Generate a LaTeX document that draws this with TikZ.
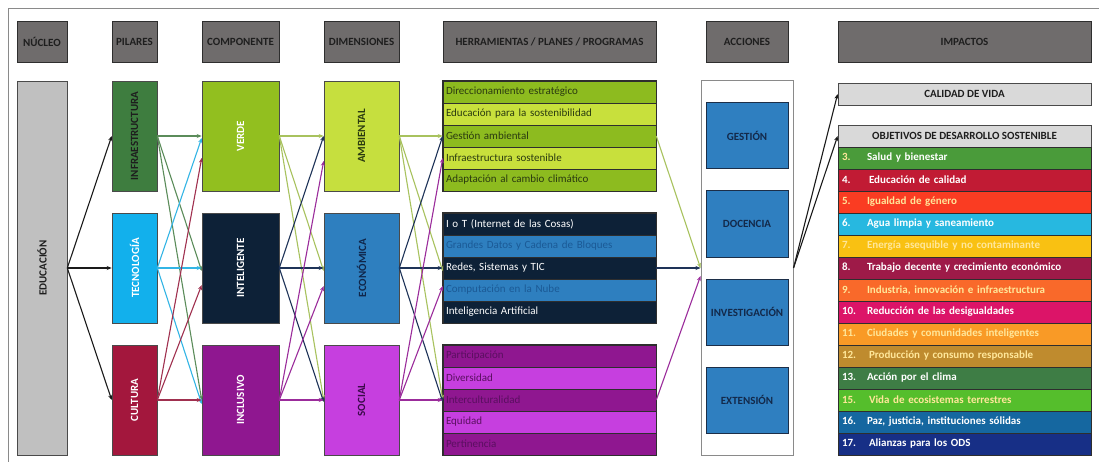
\documentclass[tikz,border=0pt]{standalone}
\usepackage{fontspec}
\setmainfont{Carlito}
\usepackage{graphicx}
\usetikzlibrary{arrows.meta,calc}

% palette
\definecolor{frameclr}{HTML}{8A8A8A}
\definecolor{hdrfill}{HTML}{6F6C6C}
\definecolor{hdrline}{HTML}{2E2E2E}
\definecolor{hdrtext}{HTML}{1E1E1E}
\definecolor{boxline}{HTML}{4A4A4A}
\definecolor{edufill}{HTML}{C0C0C0}
\definecolor{infrafill}{HTML}{3E7D3F}
\definecolor{tecfill}{HTML}{12B0EC}
\definecolor{cultfill}{HTML}{A3173D}
\definecolor{verdefill}{HTML}{92BF1F}
\definecolor{intelfill}{HTML}{0D2137}
\definecolor{inclfill}{HTML}{8F1790}
\definecolor{ambfill}{HTML}{C6DF3E}
\definecolor{ecofill}{HTML}{2E7FBF}
\definecolor{socfill}{HTML}{C63FDF}
\definecolor{greenA}{HTML}{8DBB1F}
\definecolor{greenB}{HTML}{C8E03C}
\definecolor{greentxt}{HTML}{2A3A10}
\definecolor{bluetxt}{HTML}{1B5A96}
\definecolor{purpletxt}{HTML}{5A0F60}
\definecolor{ecotxt}{HTML}{10264A}
\definecolor{soctxt}{HTML}{3B0A4A}
\definecolor{actfill}{HTML}{2F7FC0}
\definecolor{actline}{HTML}{1C2E48}
\definecolor{acttxt}{HTML}{13294A}
\definecolor{impfill}{HTML}{D9D9D9}
% connector colours
\definecolor{cInfra}{HTML}{5B8C5A}
\definecolor{cTec}{HTML}{33B5E5}
\definecolor{cCult}{HTML}{A0304F}
\definecolor{cVerde}{HTML}{A8C25E}
\definecolor{cNavy}{HTML}{1E3358}
\definecolor{cPurple}{HTML}{9B2C9B}
\definecolor{cBlack}{HTML}{1A1A1A}
% ODS colours
\definecolor{ods3}{HTML}{4A9B3A}
\definecolor{ods4}{HTML}{C11B34}
\definecolor{ods5}{HTML}{FA3C22}
\definecolor{ods6}{HTML}{27B8E0}
\definecolor{ods7}{HTML}{F9C112}
\definecolor{ods8}{HTML}{9E1A48}
\definecolor{ods9}{HTML}{F9692A}
\definecolor{ods10}{HTML}{DC1468}
\definecolor{ods11}{HTML}{F99A26}
\definecolor{ods12}{HTML}{BF8B2E}
\definecolor{ods13}{HTML}{3E7D45}
\definecolor{ods15}{HTML}{55BE2C}
\definecolor{ods16}{HTML}{1567A0}
\definecolor{ods17}{HTML}{172F86}
\definecolor{softyellow}{HTML}{FFE79A}

\tikzset{
  hdr/.style={draw=hdrline, fill=hdrfill, line width=0.9pt, text=hdrtext,
    font=\bfseries\fontsize{11}{13}\selectfont, inner sep=0pt, minimum height=41pt},
  blk/.style={draw=boxline, line width=0.6pt, inner sep=0pt,
    font=\bfseries\fontsize{11}{13}\selectfont},
  pillar/.style={blk, minimum width=45pt, minimum height=110pt},
  comp/.style={blk, minimum width=77pt, minimum height=110pt},
  dimbox/.style={blk, minimum width=75pt, minimum height=110pt},
  toolrow/.style={draw=hdrline, line width=0.5pt, inner xsep=3pt, inner ysep=0pt,
    text width=207pt, align=left, minimum height=22pt,
    font=\fontsize{11}{13}\selectfont},
  actbox/.style={draw=actline, fill=actfill, line width=1pt, text=acttxt,
    minimum width=82pt, minimum height=66pt, inner sep=0pt,
    font=\bfseries\fontsize{11}{13}\selectfont},
  impbox/.style={draw=boxline, fill=impfill, line width=0.8pt, text=hdrtext,
    minimum width=253pt, minimum height=22pt, inner sep=0pt,
    font=\bfseries\fontsize{11}{13}\selectfont},
  odsrow/.style={draw=hdrline, line width=0.5pt, inner xsep=4pt, inner ysep=0pt,
    text width=245pt, align=left, minimum height=22pt, text=white,
    font=\bfseries\fontsize{11}{13}\selectfont},
  conn/.style={line width=1.1pt, -{Stealth[length=5pt,width=4pt]}},
}
\newcommand{\odsnum}[1]{\makebox[25pt][l]{#1}}

\begin{document}
\begin{tikzpicture}[x=1pt,y=-1pt]
\useasboundingbox (0,0) rectangle (1099,462);
\fill[white] (0,0) rectangle (1099,462);
% outer frame
\draw[frameclr, line width=0.8pt] (8,462) -- (8,8) -- (1099,8);

% column headers
\node[hdr, minimum width=50pt]  (hNuc)  at (42,41.5)    {NÚCLEO};
\node[hdr, minimum width=45pt]  (hPil)  at (134.5,41.5) {PILARES};
\node[hdr, minimum width=77pt]  (hComp) at (240.5,41.5) {COMPONENTE};
\node[hdr, minimum width=75pt]  (hDim)  at (361.5,41.5) {DIMENSIONES};
\node[hdr, minimum width=213pt] (hHer)  at (549.5,41.5) {HERRAMIENTAS / PLANES / PROGRAMAS};
\node[hdr, minimum width=82pt]  (hAcc)  at (747,41.5)   {ACCIONES};
\node[hdr, minimum width=253pt] (hImp)  at (964.5,41.5) {IMPACTOS};

% core
\node[blk, fill=edufill, text=hdrtext, minimum width=50pt, minimum height=374pt]
  (edu) at (42,268) {\rotatebox{90}{EDUCACIÓN}};

% pillars
\node[pillar, fill=infrafill, text=hdrtext] (infra) at (134.5,136) {\rotatebox{90}{INFRAESTRUCTURA}};
\node[pillar, fill=tecfill, text=white]     (tec)   at (134.5,268) {\rotatebox{90}{TECNOLOGÍA}};
\node[pillar, fill=cultfill, text=white]    (cult)  at (134.5,400) {\rotatebox{90}{CULTURA}};

% components
\node[comp, fill=verdefill, text=white] (verde) at (240.5,136) {\rotatebox{90}{VERDE}};
\node[comp, fill=intelfill, text=white] (intel) at (240.5,268) {\rotatebox{90}{INTELIGENTE}};
\node[comp, fill=inclfill, text=white]  (incl)  at (240.5,400) {\rotatebox{90}{INCLUSIVO}};

% dimensions
\node[dimbox, fill=ambfill, text=greentxt] (amb) at (361.5,136) {\rotatebox{90}{AMBIENTAL}};
\node[dimbox, fill=ecofill, text=ecotxt]   (eco) at (361.5,268) {\rotatebox{90}{ECONÓMICA}};
\node[dimbox, fill=socfill, text=soctxt]   (soc) at (361.5,400) {\rotatebox{90}{SOCIAL}};

% tools / plans / programmes
\node[toolrow, fill=greenA, text=greentxt] (g1) at (549.5,92)  {Direccionamiento estratégico};
\node[toolrow, fill=greenB, text=greentxt] (g2) at (549.5,114) {Educación para la sostenibilidad};
\node[toolrow, fill=greenA, text=greentxt] (g3) at (549.5,136) {Gestión ambiental};
\node[toolrow, fill=greenB, text=greentxt] (g4) at (549.5,158) {Infraestructura sostenible};
\node[toolrow, fill=greenA, text=greentxt] (g5) at (549.5,180) {Adaptación al cambio climático};
\draw[hdrline, line width=0.9pt] (g1.north west) rectangle (g5.south east);

\node[toolrow, fill=intelfill, text=white]  (d1) at (549.5,224) {I o T (Internet de las Cosas)};
\node[toolrow, fill=ecofill, text=bluetxt]  (d2) at (549.5,246) {Grandes Datos y Cadena de Bloques};
\node[toolrow, fill=intelfill, text=white]  (d3) at (549.5,268) {Redes, Sistemas y TIC};
\node[toolrow, fill=ecofill, text=bluetxt]  (d4) at (549.5,290) {Computación en la Nube};
\node[toolrow, fill=intelfill, text=white]  (d5) at (549.5,312) {Inteligencia Artificial};
\draw[hdrline, line width=0.9pt] (d1.north west) rectangle (d5.south east);

\node[toolrow, fill=inclfill, text=purpletxt] (p1) at (549.5,356) {Participación};
\node[toolrow, fill=socfill, text=purpletxt]  (p2) at (549.5,378) {Diversidad};
\node[toolrow, fill=inclfill, text=purpletxt] (p3) at (549.5,400) {Interculturalidad};
\node[toolrow, fill=socfill, text=purpletxt]  (p4) at (549.5,422) {Equidad};
\node[toolrow, fill=inclfill, text=purpletxt] (p5) at (549.5,444) {Pertinencia};
\draw[hdrline, line width=0.9pt] (p1.north west) rectangle (p5.south east);

% actions
\node[draw=frameclr, fill=white, line width=1pt, minimum width=92pt, minimum height=374pt]
  (acts) at (747,268) {};
\node[actbox] (gest) at (747,136) {GESTIÓN};
\node[actbox] (doc)  at (747,224) {DOCENCIA};
\node[actbox] (inv)  at (747,312) {INVESTIGACIÓN};
\node[actbox] (ext)  at (747,400) {EXTENSIÓN};

% impacts
\node[impbox] (cal)  at (964.5,94)  {CALIDAD DE VIDA};
\node[impbox] (odsh) at (964.5,136) {OBJETIVOS DE DESARROLLO SOSTENIBLE};
\node[odsrow, fill=ods3, text=white]       (o3)  at (964.5,158) {\odsnum{\textcolor{softyellow}{3.}}Salud y bienestar};
\node[odsrow, fill=ods4, text=white]       (o4)  at (964.5,180) {\odsnum{4.}\hspace{2pt}Educación de calidad};
\node[odsrow, fill=ods5, text=softyellow]  (o5)  at (964.5,202) {\odsnum{5.}Igualdad de género};
\node[odsrow, fill=ods6, text=white]       (o6)  at (964.5,224) {\odsnum{6.}Agua limpia y saneamiento};
\node[odsrow, fill=ods7, text=softyellow]  (o7)  at (964.5,246) {\odsnum{7.}Energía asequible y no contaminante};
\node[odsrow, fill=ods8, text=white]       (o8)  at (964.5,268) {\odsnum{8.}Trabajo decente y crecimiento económico};
\node[odsrow, fill=ods9, text=softyellow]  (o9)  at (964.5,290) {\odsnum{9.}Industria, innovación e infraestructura};
\node[odsrow, fill=ods10, text=white]      (o10) at (964.5,312) {\odsnum{10.}Reducción de las desigualdades};
\node[odsrow, fill=ods11, text=softyellow] (o11) at (964.5,334) {\odsnum{11.}Ciudades y comunidades inteligentes};
\node[odsrow, fill=ods12, text=softyellow] (o12) at (964.5,356) {\odsnum{12.}\hspace{2pt}Producción y consumo responsable};
\node[odsrow, fill=ods13, text=white]      (o13) at (964.5,378) {\odsnum{13.}Acción por el clima};
\node[odsrow, fill=ods15, text=softyellow] (o15) at (964.5,400) {\odsnum{15.}\hspace{2pt}Vida de ecosistemas terrestres};
\node[odsrow, fill=ods16, text=white]      (o16) at (964.5,422) {\odsnum{16.}Paz, justicia, instituciones sólidas};
\node[odsrow, fill=ods17, text=white]      (o17) at (964.5,444) {\odsnum{17.}\hspace{2pt}Alianzas para los ODS};

% core -> pillars
\draw[conn, cBlack] (edu.east) -- (infra.west);
\draw[conn, cBlack] (edu.east) -- (tec.west);
\draw[conn, cBlack] (edu.east) -- (cult.west);

% pillars -> components
\draw[conn, cInfra] (infra.east) -- (verde.west);
\draw[conn, cInfra] (infra.east) -- ($(intel.west)+(0,3)$);
\draw[conn, cInfra] (infra.east) -- (incl.west);
\draw[conn, cTec] (tec.east) -- ($(verde.west)+(0,2)$);
\draw[conn, cTec] (tec.east) -- (intel.west);
\draw[conn, cTec] (tec.east) -- ($(incl.west)+(0,4)$);
\draw[conn, cCult] (cult.east) -- ($(verde.west)+(0,22)$);
\draw[conn, cCult] (cult.east) -- ($(intel.west)+(0,17)$);
\draw[conn, cCult] (cult.east) -- (incl.west);

% components -> dimensions
\draw[conn, cVerde] (verde.east) -- (amb.west);
\draw[conn, cVerde] (verde.east) -- ($(eco.west)+(0,3)$);
\draw[conn, cVerde] (verde.east) -- (soc.west);
\draw[conn, cNavy] (intel.east) -- (amb.west);
\draw[conn, cNavy] (intel.east) -- (eco.west);
\draw[conn, cNavy] (intel.east) -- ($(soc.west)+(0,2)$);
\draw[conn, cPurple] (incl.east) -- ($(amb.west)+(0,25)$);
\draw[conn, cPurple] (incl.east) -- ($(eco.west)+(0,18)$);
\draw[conn, cPurple] (incl.east) -- (soc.west);

% dimensions -> tools
\draw[conn, cVerde] (amb.east) -- (g3.west);
\draw[conn, cVerde] (amb.east) -- ($(d3.west)+(0,3)$);
\draw[conn, cVerde] (amb.east) -- (p3.west);
\draw[conn, cNavy] (eco.east) -- (g3.west);
\draw[conn, cNavy] (eco.east) -- (d3.west);
\draw[conn, cNavy] (eco.east) -- ($(p3.west)+(0,2)$);
\draw[conn, cPurple] (soc.east) -- (g4.west);
\draw[conn, cPurple] (soc.east) -- ($(d3.west)+(0,18)$);
\draw[conn, cPurple] (soc.east) -- (p3.west);

% tools -> actions
\draw[conn, cVerde] (g3.east) -- (acts.west);
\draw[conn, cNavy] (d3.east) -- (acts.west);
\draw[conn, cPurple] (p3.east) -- ($(acts.west)+(0,8)$);

% actions -> impacts
\draw[conn, cBlack] (acts.east) -- (cal.west);
\draw[conn, cBlack] (acts.east) -- (odsh.west);
\end{tikzpicture}
\end{document}
